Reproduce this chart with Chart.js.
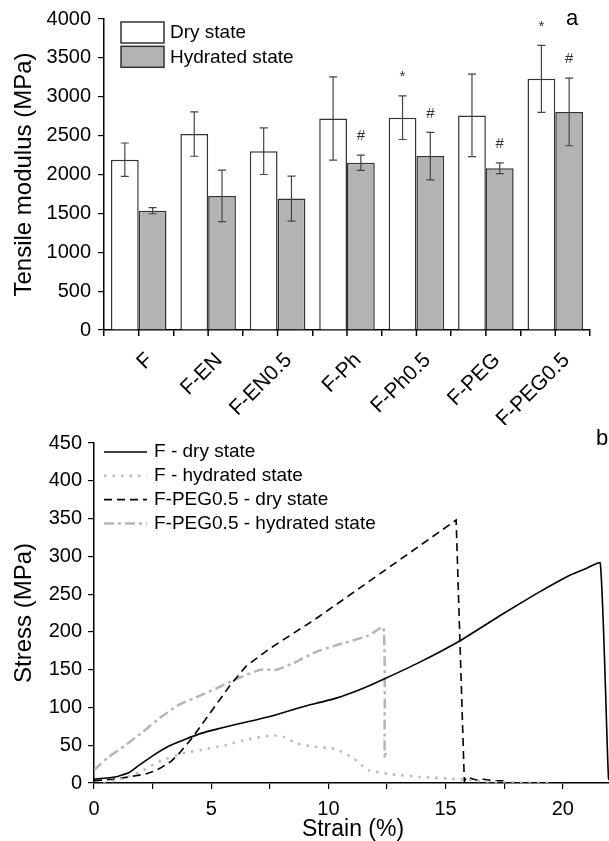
<!DOCTYPE html>
<html>
<head>
<meta charset="utf-8">
<script src="https://cdn.jsdelivr.net/npm/chart.js@4.4.1/dist/chart.umd.min.js"></script>
<style>
  html, body { margin: 0; padding: 0; background: #fff; overflow: hidden; }
  #wrapA { position: absolute; left: 0; top: 0; width: 609px; height: 425px; }
  #wrapB { position: absolute; left: 0; top: 425px; width: 612px; height: 418px; }
</style>
</head>
<body>
<div id="wrapA"><canvas id="modulus"></canvas></div>
<div id="wrapB"><canvas id="stress"></canvas></div>
<script>
// panel a - tensile modulus
const samples = ['F', 'F-EN', 'F-EN0.5', 'F-Ph', 'F-Ph0.5', 'F-PEG', 'F-PEG0.5']
const dryModulus = [2190, 2520, 2300, 2720, 2730, 2760, 3230]
const drySd = [215, 285, 300, 535, 280, 530, 430]
const hydModulus = [1535, 1725, 1690, 2150, 2237, 2080, 2805]
const hydSd = [40, 330, 290, 98, 305, 70, 435]
const dryMarks = ['', '', '', '', '*', '', '*']
const hydMarks = ['', '', '', '#', '#', '#', '#']

// panel b - stress/strain curves
const fDryStrain = [0, 0.9, 1.5, 1.9, 2.5, 3.2, 3.9, 4.6, 5.2, 6.0, 7.5, 8.8, 10.3, 11.3, 12.4, 13.9, 15.6, 17.4, 18.9, 20.3, 21.0, 21.6, 21.95, 22.1]
const fDryStress = [5, 8, 14, 23, 36, 49, 58, 66, 71, 77, 88, 100, 112, 123, 138, 160, 188, 223, 251, 275, 284, 291, 6, 0]
const fHydStrain = [0.4, 1.0, 1.5, 2.1, 2.9, 3.9, 4.6, 5.6, 6.6, 7.6, 8.1, 8.7, 9.4, 10.3, 11.1, 11.7, 12.6, 13.9, 15.6, 16.7, 17.5, 19.5]
const fHydStress = [0, 4, 9, 17, 30, 40, 44, 50, 58, 63, 61, 52, 48, 45, 32, 17, 12, 8, 5, 2, 1, 0]
const pegDryStrain = [0, 0.8, 1.5, 2.2, 2.6, 2.9, 3.3, 3.6, 4.2, 5.1, 5.8, 6.5, 7.5, 8.5, 9.4, 10.0, 11.7, 15.45, 15.8, 15.9, 16.3, 16.6, 17.0, 17.5]
const pegDryStress = [3, 5, 8, 12, 16, 21, 29, 38, 60, 99, 129, 155, 178, 198, 216, 229, 266, 348, 2, 8, 4, 5, 3, 3]
const pegHydStrain = [0, 0.6, 1.3, 2.1, 2.8, 3.6, 4.4, 5.2, 6.1, 7.1, 7.8, 8.6, 9.5, 10.3, 11.7, 12.35, 12.4, 12.45]
const pegHydStress = [17, 34, 49, 68, 86, 103, 114, 125, 138, 150, 150, 160, 174, 182, 195, 206, 33, 40]

const FONT = '"Liberation Sans", Arial, sans-serif'
Chart.defaults.font.family = FONT
Chart.defaults.color = '#000'

const toPoints = (xs, ys) => xs.map((x, i) => ({x: x, y: ys[i]}))

const errorBars = {
    id: 'errorBars',
    afterDatasetsDraw(chart) {
        const ctx = chart.ctx
        const y = chart.scales.y
        ctx.save()
        ctx.strokeStyle = '#444'
        ctx.fillStyle = '#333'
        ctx.lineWidth = 1.2
        ctx.font = '15px ' + FONT
        ctx.textAlign = 'center'
        ctx.textBaseline = 'middle'
        chart.data.datasets.forEach((ds, i) => {
            chart.getDatasetMeta(i).data.forEach((bar, j) => {
                const top = y.getPixelForValue(ds.data[j] + ds.sd[j])
                const bot = y.getPixelForValue(ds.data[j] - ds.sd[j])
                ctx.beginPath()
                ctx.moveTo(bar.x, top); ctx.lineTo(bar.x, bot)
                ctx.moveTo(bar.x - 4, top); ctx.lineTo(bar.x + 4, top)
                ctx.moveTo(bar.x - 4, bot); ctx.lineTo(bar.x + 4, bot)
                ctx.stroke()
                if (ds.marks[j]) ctx.fillText(ds.marks[j], bar.x, top - 19)
            })
        })
        // ticks at the group centres too
        const xs = chart.scales.x
        ctx.strokeStyle = '#000'
        ctx.lineWidth = 1.5
        samples.forEach((s, j) => {
            const px = xs.getPixelForValue(j)
            ctx.beginPath()
            ctx.moveTo(px, chart.chartArea.bottom)
            ctx.lineTo(px, chart.chartArea.bottom + 6)
            ctx.stroke()
        })
        ctx.restore()
    }
}

const boxLegend = {
    id: 'boxLegend',
    afterDraw(chart) {
        const ctx = chart.ctx
        ctx.save()
        ctx.font = '19px ' + FONT
        ctx.textBaseline = 'middle'
        chart.data.datasets.forEach((ds, i) => {
            const top = 22 + i * 24.3
            ctx.fillStyle = ds.backgroundColor
            ctx.fillRect(121, top, 43, 21)
            ctx.strokeStyle = '#333'
            ctx.lineWidth = 1.5
            ctx.strokeRect(121, top, 43, 21)
            ctx.fillStyle = '#000'
            ctx.fillText(ds.label, 170, top + 11)
        })
        ctx.font = '22px ' + FONT
        ctx.textAlign = 'center'
        ctx.fillText('a', 572, 19)
        ctx.restore()
    }
}

const lineLegend = {
    id: 'lineLegend',
    afterDraw(chart) {
        const ctx = chart.ctx
        ctx.save()
        ctx.font = '19px ' + FONT
        ctx.textBaseline = 'middle'
        chart.data.datasets.forEach((ds, i) => {
            const y = 27 + i * 23.8
            ctx.strokeStyle = ds.borderColor
            ctx.lineWidth = ds.borderWidth
            ctx.setLineDash(ds.borderDash || [])
            ctx.beginPath()
            ctx.moveTo(104, y)
            ctx.lineTo(147, y)
            ctx.stroke()
            ctx.setLineDash([])
            ctx.fillStyle = '#000'
            ctx.fillText(ds.label, 154, y)
        })
        ctx.font = '22px ' + FONT
        ctx.textAlign = 'center'
        ctx.fillText('b', 602, 14)
        ctx.restore()
    }
}

new Chart(document.getElementById('modulus'), {
    type: 'bar',
    data: {
        labels: samples,
        datasets: [
            {
                label: 'Dry state',
                data: dryModulus,
                sd: drySd,
                marks: dryMarks,
                backgroundColor: '#ffffff',
                borderColor: '#333',
                borderWidth: 1.5
            },
            {
                label: 'Hydrated state',
                data: hydModulus,
                sd: hydSd,
                marks: hydMarks,
                backgroundColor: '#b3b3b3',
                borderColor: '#333',
                borderWidth: 1.5
            }
        ]
    },
    options: {
        responsive: true,
        maintainAspectRatio: false,
        animation: false,
        layout: { padding: { left: 0, top: 18, right: 19, bottom: 0 } },
        datasets: { bar: { categoryPercentage: 0.8, barPercentage: 1 } },
        plugins: { legend: { display: false }, tooltip: { enabled: false } },
        scales: {
            x: {
                afterFit: s => { s.height = 95 },
                border: { color: '#000', width: 1.5 },
                grid: { display: true, drawOnChartArea: false, tickLength: 6, color: '#000', lineWidth: 1.5, offset: true },
                ticks: { font: { size: 21 }, minRotation: 45, maxRotation: 45, padding: 12, labelOffset: 11 }
            },
            y: {
                min: 0,
                max: 4000,
                afterFit: s => { s.width = 104 },
                border: { color: '#000', width: 1.5 },
                grid: { display: true, drawOnChartArea: false, tickLength: 6, color: '#000', lineWidth: 1.2 },
                ticks: {
                    stepSize: 250,
                    font: { size: 20 },
                    padding: 7,
                    callback: v => v % 500 === 0 ? v : ''
                },
                title: { display: true, text: 'Tensile modulus (MPa)', font: { size: 24 }, padding: 10 }
            }
        }
    },
    plugins: [errorBars, boxLegend]
})

new Chart(document.getElementById('stress'), {
    type: 'line',
    data: {
        datasets: [
            {
                label: 'F - dry state',
                data: toPoints(fDryStrain, fDryStress),
                borderColor: '#000',
                borderWidth: 1.6
            },
            {
                label: 'F - hydrated state',
                data: toPoints(fHydStrain, fHydStress),
                borderColor: '#bdbdbd',
                borderWidth: 2.6,
                borderDash: [2.5, 6]
            },
            {
                label: 'F-PEG0.5 - dry state',
                data: toPoints(pegDryStrain, pegDryStress),
                borderColor: '#000',
                borderWidth: 1.6,
                borderDash: [8, 5],
                tension: 0
            },
            {
                label: 'F-PEG0.5 - hydrated state',
                data: toPoints(pegHydStrain, pegHydStress),
                borderColor: '#b5b5b5',
                borderWidth: 2.5,
                borderDash: [10, 4, 3, 4]
            }
        ]
    },
    options: {
        responsive: true,
        maintainAspectRatio: false,
        animation: false,
        layout: { padding: { left: 0, top: 13, right: 0, bottom: 0 } },
        elements: { point: { radius: 0 }, line: { tension: 0.15, fill: false } },
        plugins: { legend: { display: false }, tooltip: { enabled: false } },
        scales: {
            x: {
                type: 'linear',
                min: 0,
                max: 22.1,
                afterFit: s => { s.height = 60 },
                border: { color: '#000', width: 1.5 },
                grid: { display: true, drawOnChartArea: false, tickLength: 6, color: '#000', lineWidth: 1.2 },
                ticks: {
                    stepSize: 2.5,
                    includeBounds: false,
                    font: { size: 20 },
                    padding: 8,
                    maxRotation: 0,
                    callback: v => v % 5 === 0 ? v : ''
                },
                title: { display: true, text: 'Strain (%)', font: { size: 23 }, padding: { top: 0, bottom: 0 } }
            },
            y: {
                min: 0,
                max: 450,
                afterFit: s => { s.width = 94 },
                border: { color: '#000', width: 1.5 },
                grid: { display: true, drawOnChartArea: false, tickLength: 6, color: '#000', lineWidth: 1.2 },
                ticks: {
                    stepSize: 25,
                    font: { size: 20 },
                    padding: 6,
                    callback: v => v % 50 === 0 ? v : ''
                },
                title: { display: true, text: 'Stress (MPa)', font: { size: 24 }, padding: 10 }
            }
        }
    },
    plugins: [lineLegend]
})
</script>
</body>
</html>
